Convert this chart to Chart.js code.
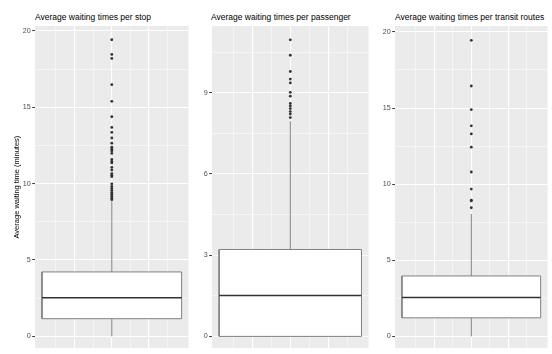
<!DOCTYPE html>
<html><head><meta charset="utf-8">
<script src="https://cdn.jsdelivr.net/npm/chart.js@4.4.1/dist/chart.umd.min.js"></script>
<style>
body{margin:0;background:#fff;width:552px;height:354px;position:relative;overflow:hidden;font-family:"Liberation Sans",Arial,sans-serif}
canvas{position:absolute;top:0}
.t{position:absolute;top:12px;font-size:8.5px;line-height:10px;color:#000;white-space:nowrap}
</style></head><body>
<div class="t" id="t1" style="left:35px"></div>
<div class="t" id="t2" style="left:211px"></div>
<div class="t" id="t3" style="left:395px"></div>
<canvas id="c1" width="190" height="354" style="left:0px"></canvas>
<canvas id="c2" width="180" height="354" style="left:190px"></canvas>
<canvas id="c3" width="179" height="354" style="left:370px"></canvas>
<script>
// ---- data ----
const panelTitles = ["Average waiting times per stop", "Average waiting times per passenger", "Average waiting times per transit routes"];
const yAxisTitle = "Average waiting time (minutes)";

// box stats: [lower whisker, Q1, median, Q3, upper whisker]
const stopStats = [0, 1.16, 2.53, 4.22, 8.85];
const stopOutliers = [19.42, 18.46, 18.2, 16.48, 15.39, 14.38, 13.68, 13.36, 12.99, 12.65, 12.39, 12.26, 12.13, 11.98,
  11.58, 11.45, 11.36, 11.06, 10.89, 10.65, 10.55, 10.46, 9.99, 9.82, 9.69, 9.56, 9.43, 9.31, 9.18, 9.05, 8.95];
const stopMajorTicks = [0, 5, 10, 15, 20];
const stopMinorTicks = [2.5, 7.5, 12.5, 17.5];

const passengerStats = [0, 0, 1.51, 3.21, 7.95];
const passengerOutliers = [10.95, 10.38, 9.78, 9.5, 9.36, 9.01, 8.87, 8.6, 8.51, 8.41, 8.3, 8.21, 8.08];
const passengerMajorTicks = [0, 3, 6, 9];
const passengerMinorTicks = [1.5, 4.5, 7.5, 10.5];

const routeStats = [0, 1.22, 2.55, 3.97, 8.04];
const routeOutliers = [19.45, 16.45, 14.9, 13.83, 13.3, 12.43, 10.8, 9.68, 8.95, 8.9, 8.45];
const routeMajorTicks = [0, 5, 10, 15, 20];
const routeMinorTicks = [2.5, 7.5, 12.5, 17.5];

const xMajorGrid = [-0.2, 0, 0.2];
const xMinorGrid = [-0.3, -0.1, 0.1, 0.3];

// ---- drawing ----
Chart.defaults.font.family = '"Liberation Sans", Arial, sans-serif';
document.getElementById('t1').textContent = panelTitles[0];
document.getElementById('t2').textContent = panelTitles[1];
document.getElementById('t3').textContent = panelTitles[2];

const BOX_HALF = 0.375;
const X_LIMIT = 0.4125;

const panelBg = {
  id: 'panelBg',
  beforeDraw(chart) {
    const {ctx, chartArea: a} = chart;
    ctx.save();
    ctx.fillStyle = '#EBEBEB';
    ctx.fillRect(a.left, a.top, a.right - a.left, a.bottom - a.top);
    ctx.restore();
  }
};

function makePanel(id, stats, outliers, majors, minors, yMin, yMax, axisWidth, showYTitle) {
  const [lo, q1, med, q3, hi] = stats;
  const W = BOX_HALF;
  const noLine = {pointRadius: 0, pointHoverRadius: 0, tension: 0};
  const gridCol = '#FFFFFF';
  new Chart(document.getElementById(id), {
    type: 'line',
    data: {
      datasets: [
        {type: 'scatter', data: outliers.map(v => ({x: 0, y: v})), pointRadius: 1.4, pointHoverRadius: 1.4,
         backgroundColor: '#333333', borderWidth: 0, borderColor: 'rgba(0,0,0,0)', order: 0},
        {data: [{x: -W, y: med}, {x: W, y: med}], borderColor: '#333333', borderWidth: 1.5, fill: false, order: 1, ...noLine},
        {data: [{x: -W, y: q1}, {x: W, y: q1}, {x: W, y: q3}, {x: -W, y: q3}, {x: -W, y: q1}],
         borderColor: '#808080', borderWidth: 1, fill: false, order: 2, ...noLine},
        {data: [{x: -W, y: q3}, {x: W, y: q3}], borderColor: 'rgba(0,0,0,0)', borderWidth: 0.01,
         backgroundColor: '#FFFFFF', fill: '+1', order: 3, ...noLine},
        {data: [{x: -W, y: q1}, {x: W, y: q1}], borderColor: 'rgba(0,0,0,0)', borderWidth: 0.01, fill: false, order: 4, ...noLine},
        {data: [{x: 0, y: q3}, {x: 0, y: hi}], borderColor: '#808080', borderWidth: 1, fill: false, order: 5, ...noLine},
        {data: [{x: 0, y: lo}, {x: 0, y: q1}], borderColor: '#808080', borderWidth: 1, fill: false, order: 5, ...noLine}
      ]
    },
    options: {
      responsive: false,
      animation: false,
      events: [],
      layout: {padding: {top: 26, left: 0, right: 0, bottom: 0}},
      plugins: {legend: {display: false}, tooltip: {enabled: false}, title: {display: false}},
      scales: {
        x: {
          type: 'linear', min: -X_LIMIT, max: X_LIMIT,
          afterBuildTicks: s => { s.ticks = [...xMinorGrid, ...xMajorGrid].sort((a, b) => a - b).map(v => ({value: v})); },
          afterFit: s => { s.height = 0; },
          ticks: {display: false},
          grid: {color: gridCol, drawTicks: false,
                 lineWidth: c => (c.tick && xMajorGrid.includes(c.tick.value)) ? 1.1 : 0.5},
          border: {display: false}
        },
        y: {
          type: 'linear', min: yMin, max: yMax,
          afterBuildTicks: s => { s.ticks = [...majors, ...minors].sort((a, b) => a - b).map(v => ({value: v})); },
          afterFit: s => { s.width = axisWidth; },
          ticks: {color: '#4D4D4D', font: {size: 7.2}, padding: 1.5, autoSkip: false, maxRotation: 0,
                  callback: v => majors.includes(v) ? String(v) : ''},
          grid: {color: gridCol, tickLength: 2.8, tickWidth: 1,
                 lineWidth: c => (c.tick && majors.includes(c.tick.value)) ? 1.1 : 0.5,
                 tickColor: c => (c.tick && majors.includes(c.tick.value)) ? '#333333' : 'rgba(0,0,0,0)'},
          border: {display: false},
          title: {display: showYTitle, text: yAxisTitle, color: '#000000', font: {size: 7.5}, padding: {top: 12.7, bottom: 0}}
        }
      }
    },
    plugins: [panelBg]
  });
}

makePanel('c1', stopStats, stopOutliers, stopMajorTicks, stopMinorTicks, -0.77, 20.32, 35, true);
makePanel('c2', passengerStats, passengerOutliers, passengerMajorTicks, passengerMinorTicks, -0.435, 11.46, 22, false);
makePanel('c3', routeStats, routeOutliers, routeMajorTicks, routeMinorTicks, -0.774, 20.39, 25, false);
</script>
</body></html>
